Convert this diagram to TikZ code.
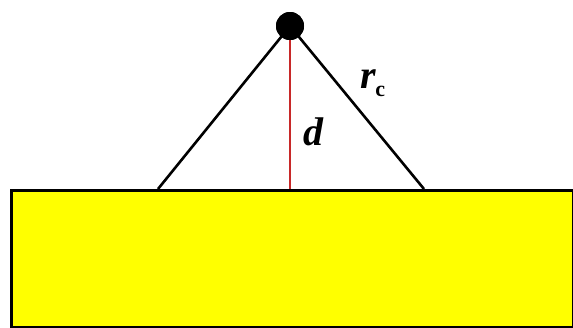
\documentclass[tikz,border=0pt]{standalone}
\usepackage{fontspec}
\setmainfont{Liberation Serif}
\definecolor{slabyellow}{RGB}{255,255,0}
\definecolor{dred}{RGB}{200,40,40}
\begin{document}
\begin{tikzpicture}[x=1pt,y=-1pt,
  edge/.style={line width=2.6pt,black},
  lbl/.style={inner sep=0pt,font=\bfseries\itshape}]
\useasboundingbox (0,0) rectangle (573,327);
\node[draw=black,line width=2.6pt,fill=slabyellow,minimum width=562pt,minimum height=137pt,anchor=north west,inner sep=0pt] (slab) at (10,189) {};
\coordinate (foot) at (290,189);
\coordinate (lft) at (158,189);
\coordinate (rgt) at (424,189);
\node[circle,fill=black,minimum size=28pt,inner sep=0pt] (ball) at (290,26) {};
\draw[edge] (ball.center) -- (lft);
\draw[edge] (ball.center) -- (rgt);
\draw[line width=2.6pt,dred] (ball.center) -- (foot);
\node[circle,fill=black,minimum size=28pt,inner sep=0pt] at (290,26) {};
\node[lbl,font=\fontsize{40}{44}\selectfont\bfseries\itshape,anchor=base] (d) at (313,145) {d};
\node[lbl,font=\fontsize{40}{44}\selectfont\bfseries\itshape,anchor=base] (r) at (373,88) {r\kern-1pt\raisebox{-8pt}{\fontsize{22}{24}\selectfont\upshape c}};
\end{tikzpicture}
\end{document}
